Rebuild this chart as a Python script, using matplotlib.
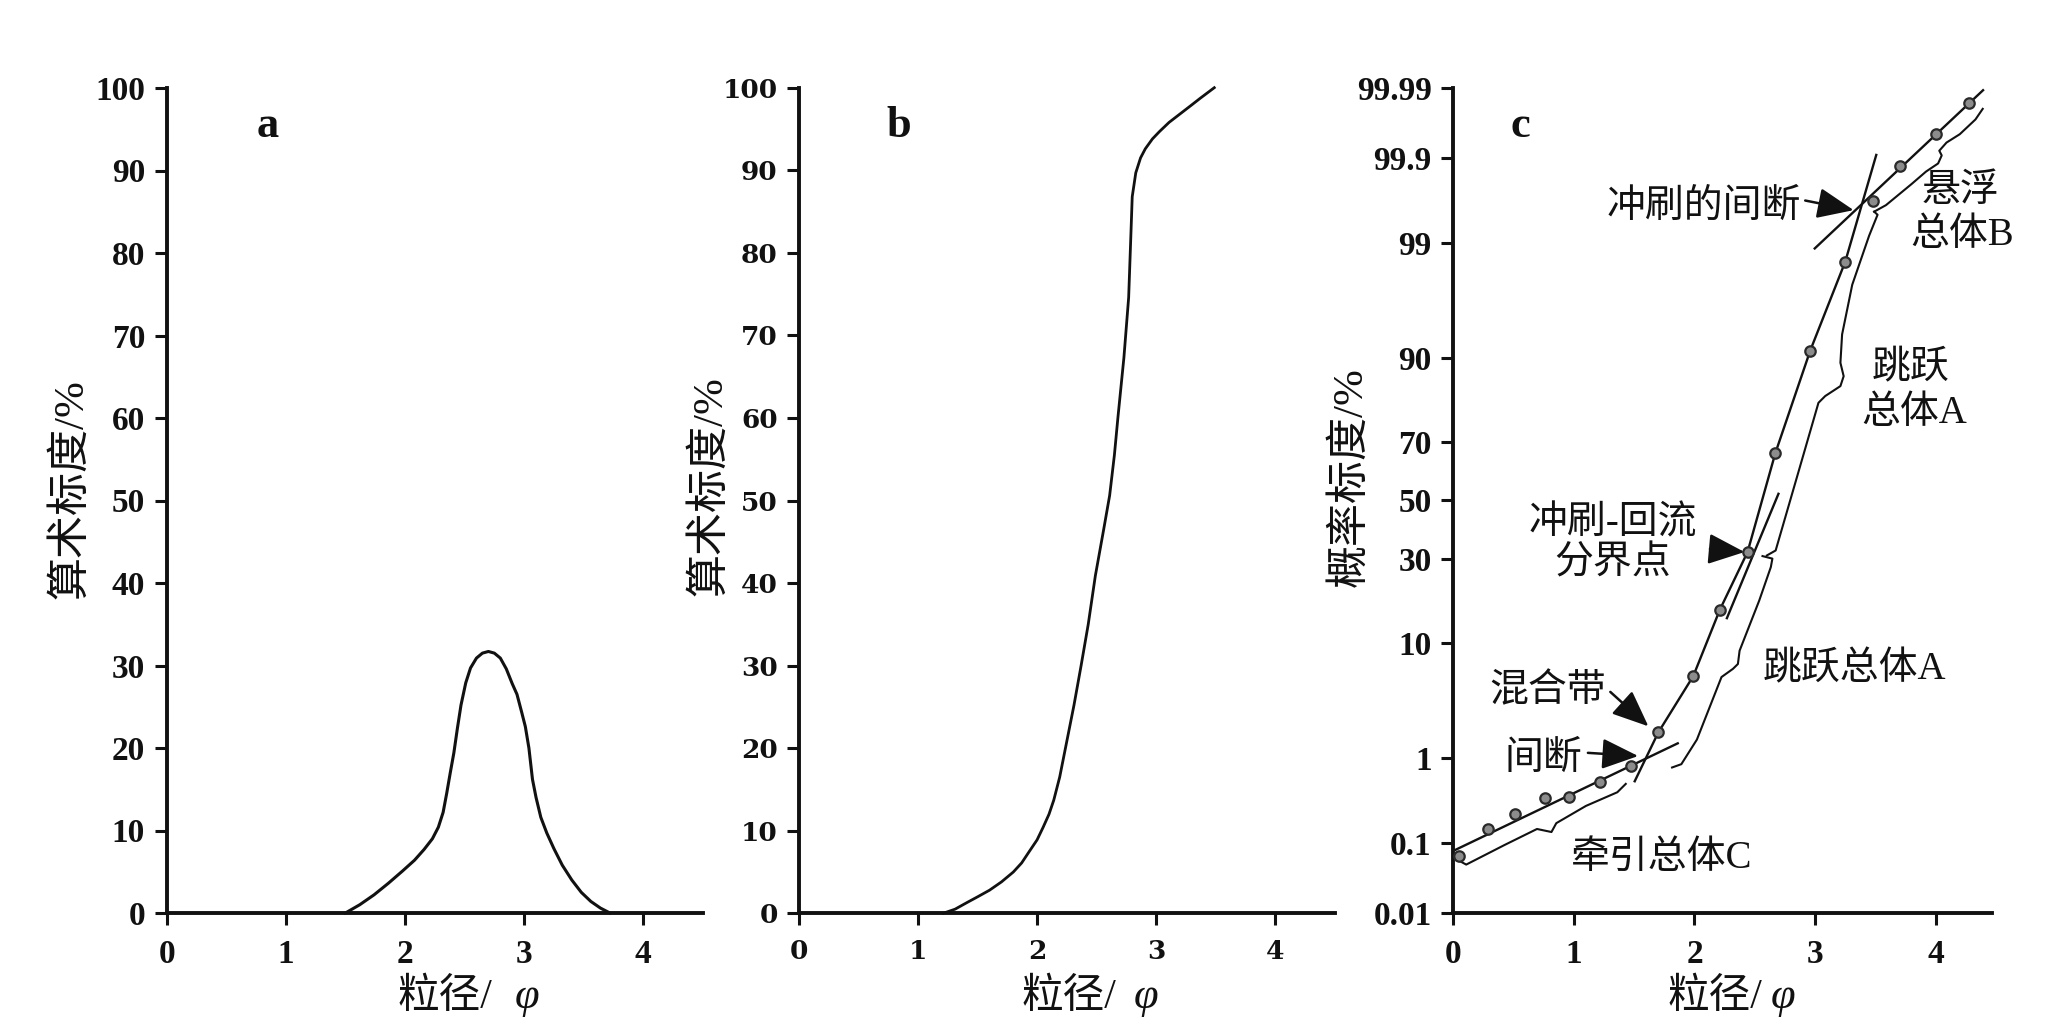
import numpy as np
import matplotlib
matplotlib.use("Agg")
import matplotlib.pyplot as plt
from matplotlib.ticker import NullLocator
from statistics import NormalDist

# ------------------------------------------------------------------ data
phi_ticks = [0, 1, 2, 3, 4]
arith_ticks = [0, 10, 20, 30, 40, 50, 60, 70, 80, 90, 100]
prob_ticks = [0.01, 0.1, 1, 10, 30, 50, 70, 90, 99, 99.9, 99.99]
prob_tick_labels = ["0.01", "0.1", "1", "10", "30", "50", "70", "90", "99", "99.9", "99.99"]

# (a) frequency curve
freq_phi = [1.50, 1.62, 1.74, 1.86, 1.98, 2.08, 2.16, 2.23, 2.28, 2.32, 2.35, 2.38,
            2.41, 2.44, 2.47, 2.51, 2.55, 2.60, 2.65, 2.70, 2.75, 2.80, 2.85, 2.90,
            2.94, 2.98, 3.01, 3.04, 3.07, 3.10, 3.14, 3.19, 3.25, 3.32, 3.40, 3.48,
            3.56, 3.64, 3.72]
freq_pct = [0.0, 1.0, 2.2, 3.6, 5.1, 6.4, 7.7, 9.0, 10.4, 12.2, 14.5, 17.0,
            19.4, 22.4, 25.2, 27.9, 29.7, 30.9, 31.5, 31.7, 31.5, 30.9, 29.6, 27.8,
            26.5, 24.3, 22.6, 20.0, 16.2, 14.0, 11.6, 9.7, 7.8, 5.8, 4.0, 2.5,
            1.4, 0.6, 0.0]

# (b) cumulative curve
cum_phi = [1.21, 1.31, 1.41, 1.50, 1.60, 1.70, 1.80, 1.87, 1.93, 2.00, 2.05, 2.10,
           2.14, 2.19, 2.23, 2.27, 2.31, 2.37, 2.43, 2.49, 2.51, 2.56, 2.61, 2.65,
           2.68, 2.73, 2.77, 2.79, 2.80, 2.83, 2.87, 2.91, 2.97, 3.03, 3.11, 3.20,
           3.29, 3.37, 3.49]
cum_pct = [0.0, 0.5, 1.3, 2.0, 2.8, 3.8, 5.0, 6.1, 7.4, 8.9, 10.4, 12.0,
           13.7, 16.5, 19.4, 22.3, 25.2, 30.0, 35.0, 40.9, 42.5, 46.5, 50.6, 55.5,
           60.1, 67.3, 74.6, 82.7, 86.8, 89.7, 91.5, 92.6, 93.8, 94.7, 95.8, 96.8,
           97.8, 98.7, 100.0]

# (c) probability plot: sample points
sample_phi = [0.05, 0.29, 0.51, 0.76, 0.96, 1.22, 1.47, 1.70, 1.99, 2.21, 2.44,
              2.67, 2.96, 3.25, 3.48, 3.70, 4.00, 4.28]
sample_pct = [0.068, 0.152, 0.231, 0.363, 0.372, 0.559, 0.833, 1.82, 5.66, 16.2, 32.1,
              66.5, 91.2, 98.44, 99.655, 99.874, 99.9525, 99.9835]

# (c) fitted segment lines
traction_phi = [0.01, 1.87]
traction_pct = [0.080, 1.44]
saltation_phi = [1.50, 1.70, 1.99, 2.21, 2.44, 2.67, 2.96, 3.25, 3.51]
saltation_pct = [0.55, 1.82, 5.66, 16.2, 32.1, 66.5, 91.2, 98.44, 99.912]
backwash_phi = [2.265, 2.70]
backwash_pct = [14.2, 52.8]
suspension_phi = [2.99, 4.40]
suspension_pct = [98.83, 99.9896]

# (c) curly braces marking the populations
brace_c_phi = [0.054, 0.107, 0.427, 0.694, 0.814, 0.854, 1.10, 1.36, 1.43]
brace_c_pct = [0.057, 0.051, 0.0945, 0.152, 0.139, 0.180, 0.293, 0.424, 0.528]
brace_a1_phi = [1.814, 1.891, 2.020, 2.224, 2.319, 2.36, 2.374, 2.537, 2.633, 2.646, 2.564]
brace_a1_pct = [0.80, 0.868, 1.55, 5.56, 6.44, 7.01, 8.77, 18.35, 27.4, 30.0, 30.8]
brace_a2_phi = [2.60, 2.673, 2.782, 2.918, 3.028, 3.084, 3.21, 3.237, 3.21, 3.224, 3.308,
                3.448, 3.518, 3.49]
brace_a2_pct = [31.0, 32.6, 48.3, 68.0, 81.1, 82.7, 84.9, 86.9, 89.3, 93.3, 97.42,
                99.155, 99.503, 99.542]
brace_b_phi = [3.49, 3.588, 3.80, 3.92, 4.02, 4.05, 4.03, 4.09, 4.20, 4.33, 4.39]
brace_b_pct = [99.542, 99.615, 99.785, 99.850, 99.882, 99.9075, 99.920, 99.938,
               99.9525, 99.9707, 99.9795]

# ------------------------------------------------------------------ figure
W, H = 2072, 1032
fig = plt.figure(figsize=(W / 100, H / 100), dpi=100)
fig.patch.set_facecolor("white")

CJK = ["Noto Sans CJK SC", "DejaVu Sans"]
MIX = ["Liberation Serif", "Noto Sans CJK SC", "DejaVu Sans"]
INK = "#111111"


def ax_at(l, t, r, b):
    return fig.add_axes([l / W, 1 - b / H, (r - l) / W, (b - t) / H])


def ftext(x, y, s, **kw):
    return fig.text(x / W, 1 - y / H, s, **kw)


def style(ax, tickfont, ticksize):
    for s in ("top", "right"):
        ax.spines[s].set_visible(False)
    for s in ("left", "bottom"):
        ax.spines[s].set_linewidth(2.8)
        ax.spines[s].set_color(INK)
    ax.tick_params(axis="both", direction="out", length=8.6, width=2.2, color=INK)
    ax.tick_params(axis="x", pad=10)
    ax.tick_params(axis="y", pad=7)
    for lab in ax.get_xticklabels() + ax.get_yticklabels():
        lab.set_fontfamily(tickfont)
        lab.set_fontweight("bold")
        lab.set_fontsize(ticksize)
        lab.set_color(INK)


# ---------------- panel a
axa = ax_at(166.7, 88, 702.5, 913)
axa.plot(freq_phi, freq_pct, color=INK, lw=2.2, clip_on=False)
axa.set_xlim(0, 4.497)
axa.set_ylim(0, 100)
axa.set_xticks(phi_ticks)
axa.set_yticks(arith_ticks)
style(axa, "Liberation Serif", 24)

# ---------------- panel b
axb = ax_at(799.3, 87.7, 1334.6, 913.3)
axb.plot(cum_phi, cum_pct, color=INK, lw=2.0, clip_on=False)
axb.set_xlim(0, 4.502)
axb.set_ylim(0, 100)
axb.set_xticks(phi_ticks)
axb.set_yticks(arith_ticks)
style(axb, "DejaVu Serif", 19)

# ---------------- panel c (probability scale)
_nd = NormalDist()
_ppf = np.vectorize(_nd.inv_cdf, otypes=[float])
_cdf = np.vectorize(_nd.cdf, otypes=[float])


def prob_fwd(p):
    p = np.clip(np.asarray(p, dtype=float) / 100.0, 1e-12, 1 - 1e-12)
    return _ppf(p)


def prob_inv(z):
    return _cdf(np.asarray(z, dtype=float)) * 100.0


axc = ax_at(1453.3, 88.3, 1992, 912.7)
axc.set_yscale("function", functions=(prob_fwd, prob_inv))
axc.set_xlim(0, 4.467)
axc.set_ylim(0.01, 99.99)
axc.set_xticks(phi_ticks)
axc.set_yticks(prob_ticks)
axc.set_yticklabels(prob_tick_labels)
axc.yaxis.set_minor_locator(NullLocator())

lkw = dict(color=INK, lw=1.7, solid_capstyle="butt")
axc.plot(traction_phi, traction_pct, **lkw)
axc.plot(saltation_phi, saltation_pct, **lkw)
axc.plot(backwash_phi, backwash_pct, **lkw)
axc.plot(suspension_phi, suspension_pct, **lkw)
bkw = dict(color=INK, lw=1.5)
axc.plot(brace_c_phi, brace_c_pct, **bkw)
axc.plot(brace_a1_phi, brace_a1_pct, **bkw)
axc.plot(brace_a2_phi, brace_a2_pct, **bkw)
axc.plot(brace_b_phi, brace_b_pct, **bkw)
axc.plot(sample_phi, sample_pct, linestyle="none", marker="o", markersize=7.5,
         markerfacecolor="#8c8c8c", markeredgecolor="#2a2a2a", markeredgewidth=1.6,
         zorder=5)
style(axc, "Liberation Serif", 24)

arrow = dict(arrowstyle="-|>,head_length=0.9,head_width=0.38", color=INK, lw=1.8,
             mutation_scale=25, shrinkA=0, shrinkB=0)
axc.annotate("", xy=(3.32, 99.56), xytext=(2.918, 99.66), arrowprops=arrow)
axc.annotate("", xy=(2.415, 32.1), xytext=(2.128, 33.1), arrowprops=arrow)
axc.annotate("", xy=(1.618, 2.08), xytext=(1.302, 4.21), arrowprops=arrow)
axc.annotate("", xy=(1.533, 1.057), xytext=(1.116, 1.14), arrowprops=arrow)

# ---------------- texts
ann = dict(ha="center", va="center", fontsize=28, color=INK, family=MIX)
ftext(1704, 207, "冲刷的间断", **ann)
ftext(1960, 192, "悬浮", **ann)
ftext(1962, 236, "总体B", **ann)
ftext(1911, 369, "跳跃", **ann)
ftext(1914, 413, "总体A", **ann)
ftext(1613, 524, "冲刷-回流", **ann)
ftext(1613, 564, "分界点", **ann)
ftext(1854, 670, "跳跃总体A", **ann)
ftext(1548, 692, "混合带", **ann)
ftext(1543, 759, "间断", **ann)
ftext(1662, 858, "牵引总体C", **ann)

# panel letters
lab = dict(ha="center", va="baseline", fontsize=32, fontweight="bold",
           family="Liberation Serif", color=INK)
ftext(268, 137, "a", **lab)
ftext(899, 137, "b", **lab)
ftext(1520, 137, "c", **lab)

# y labels
yl = dict(ha="center", va="center", rotation=90, fontsize=31, family=MIX, color=INK)
ftext(71, 489, "算术标度/%", **yl)
ftext(710, 486, "算术标度/%", **yl)
ftext(1351, 477, "概率标度/%", **yl)

# x labels
for slash_end, phi_start in ((492, 515), (1116, 1134), (1762, 1771)):
    ftext(slash_end, 1008, "粒径/", ha="right", va="baseline", fontsize=30,
          family=MIX, color=INK)
    ftext(phi_start, 1008, "φ", ha="left", va="baseline", fontsize=32,
          family="Liberation Serif", style="italic", color=INK)

fig.savefig("out.png", dpi=100, facecolor="white")
